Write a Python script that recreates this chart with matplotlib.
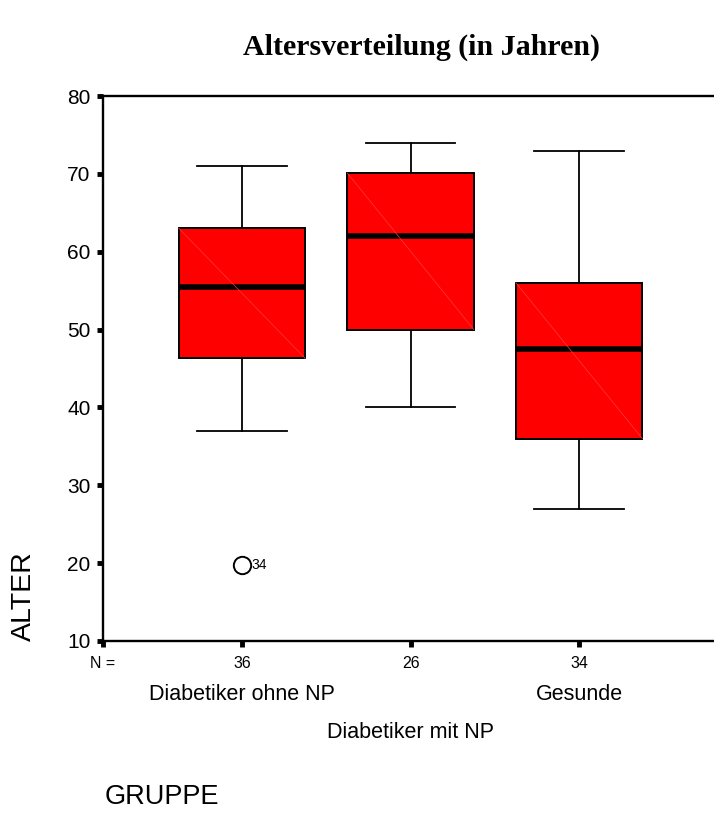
import matplotlib
matplotlib.use("Agg")
import matplotlib.pyplot as plt

# values
groups = ["Diabetiker ohne NP", "Diabetiker mit NP", "Gesunde"]
n_counts = ["36", "26", "34"]
q1 = [46.3, 50.0, 36.0]
med = [55.5, 62.0, 47.5]
q3 = [63.0, 70.1, 56.0]
whis_lo = [37.0, 40.0, 27.0]
whis_hi = [71.0, 74.0, 73.0]
outliers = [[19.7], [], []]
outlier_ids = [["34"], [], []]
yticks = [10, 20, 30, 40, 50, 60, 70, 80]

plt.rcParams['font.family'] = ['Liberation Sans', 'DejaVu Sans']

fig = plt.figure(figsize=(7.14, 8.14), dpi=100)
ax = fig.add_axes([103 / 714, 1 - 641 / 814, 1 - 103 / 714, (641 - 96) / 814])

pos = [1, 2, 3]
stats = []
for i in range(len(groups)):
    stats.append({'med': med[i], 'q1': q1[i], 'q3': q3[i],
                  'whislo': whis_lo[i], 'whishi': whis_hi[i],
                  'fliers': outliers[i], 'label': groups[i]})

ax.bxp(stats, positions=pos, widths=0.75, capwidths=0.53, patch_artist=True,
       boxprops=dict(facecolor='#ff0000', edgecolor='black', linewidth=1.4),
       medianprops=dict(color='black', linewidth=4.0, solid_capstyle='butt'),
       whiskerprops=dict(color='black', linewidth=1.3),
       capprops=dict(color='black', linewidth=1.3),
       flierprops=dict(marker='o', markersize=12.5, markerfacecolor='white',
                       markeredgecolor='black', markeredgewidth=1.4))

# faint diagonal seen inside each box
for i, p in enumerate(pos):
    ax.plot([p - 0.375, p + 0.375], [q3[i], q1[i]], color='#ff3a3a',
            linewidth=0.5, zorder=2.5)

for i, p in enumerate(pos):
    for v, lab in zip(outliers[i], outlier_ids[i]):
        ax.annotate(lab, (p, v), xytext=(7, 0), textcoords='offset points',
                    ha='left', va='center', fontsize=10)

ax.set_xlim(0.175, 3.80)
ax.set_ylim(10, 80)
ax.set_yticks(yticks)
ax.set_xticks([0.175] + pos)
ax.set_xticklabels(["N ="] + n_counts, fontsize=11.5)
ax.tick_params(axis='y', labelsize=15, length=4, width=3.5, pad=5)
ax.tick_params(axis='x', length=4, width=3.5, pad=7)

for s in ['left', 'bottom', 'top']:
    ax.spines[s].set_linewidth(1.7)
ax.spines['right'].set_visible(False)

# staggered category labels under the N row
tr = ax.get_xaxis_transform()
ax.text(pos[0], -0.099, groups[0], transform=tr, ha='center', va='center', fontsize=15.5)
ax.text(pos[2], -0.099, groups[2], transform=tr, ha='center', va='center', fontsize=15.5)
ax.text(pos[1], -0.167, groups[1], transform=tr, ha='center', va='center', fontsize=15.5)

fig.text(0.59, 1 - 47 / 814, "Altersverteilung (in Jahren)", ha='center', va='center',
         fontsize=21.5, fontweight='bold', family='Liberation Serif')
fig.text(24 / 714, 1 - 596 / 814, "ALTER", rotation=90, ha='center', va='center',
         fontsize=20.5)
fig.text(105 / 714, 1 - 797 / 814, "GRUPPE", ha='left', va='center', fontsize=19.5)

fig.savefig("out.png", dpi=100)
